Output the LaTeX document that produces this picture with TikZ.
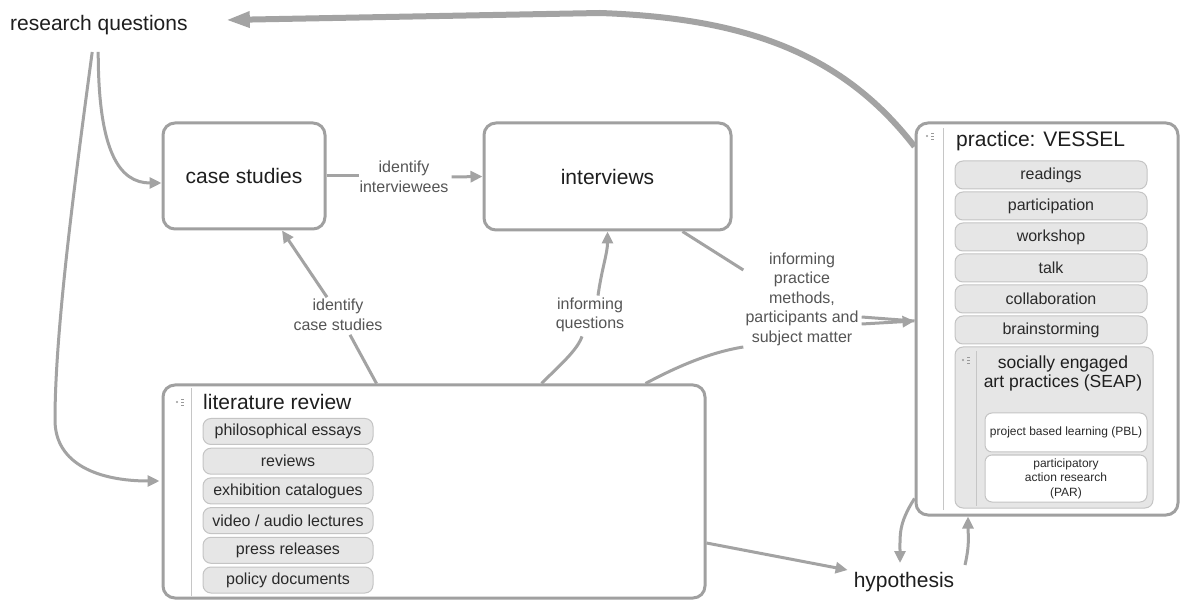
\documentclass[tikz,border=0pt]{standalone}
\usepackage{fontspec}
\setmainfont{Liberation Sans}
\usetikzlibrary{arrows.meta}
\definecolor{edgec}{HTML}{A3A3A3}
\definecolor{boxc}{HTML}{A0A0A0}
\definecolor{pillf}{HTML}{E6E6E6}
\definecolor{pilld}{HTML}{C4C4C4}
\definecolor{labc}{HTML}{555555}
\definecolor{txtc}{HTML}{1E1E1E}
\definecolor{pilltxt}{HTML}{2A2A2A}
\tikzset{
  bigbox/.style={draw=boxc, line width=3pt, rounded corners=12pt, inner sep=0pt, fill=white},
  pill/.style={draw=pilld, fill=pillf, line width=1pt, rounded corners=8pt, inner sep=0pt, text=pilltxt, font=\fontsize{16}{18}\selectfont},
  whitepill/.style={draw=pilld, fill=white, line width=1pt, rounded corners=7pt, inner sep=0pt, text=pilltxt, align=center, font=\fontsize{12}{14.5}\selectfont},
  bigtxt/.style={font=\fontsize{21}{24}\selectfont, text=txtc, inner sep=0pt},
  elab/.style={font=\fontsize{16}{19.5}\selectfont, text=labc, align=center, inner sep=0pt},
  conn/.style={draw=edgec, line width=3pt},
  arr/.style={conn, -{Triangle[length=12pt,width=11pt]}},
  divider/.style={draw=boxc!60, line width=1pt},
  iconline/.style={draw=gray!80, line width=0.7pt},
}
\newcommand\treeicon[1]{%
  \fill[gray!80] ([xshift=-4pt]#1) circle (1.2pt);
  \draw[iconline] ([xshift=0pt,yshift=3pt]#1) -- ++(3,0);
  \draw[iconline] (#1) -- ++(3,0);
  \draw[iconline] ([xshift=0pt,yshift=-3pt]#1) -- ++(3,0);
}
\begin{document}
\begin{tikzpicture}[x=1pt,y=-1pt]
\useasboundingbox[fill=white] (0,0) rectangle (1181,601);

% main nodes
\node[bigtxt, anchor=west] (rq) at (10,25) {research questions};
\node[bigbox, bigtxt, minimum width=162, minimum height=106] (case) at (244,176) {case studies};
\node[bigbox, bigtxt, minimum width=247, minimum height=107] (intv) at (607.5,176.5) {interviews};
\node[bigbox, minimum width=542, minimum height=213] (lit) at (434,491.5) {};
\node[bigbox, minimum width=262, minimum height=392] (prac) at (1047,319) {};
\node[bigtxt] (hyp) at (904,582) {hypothesis};

% literature review contents
\coordinate (liticon) at (181,402);
\treeicon{liticon}
\draw[divider] ([xshift=30,yshift=-5]lit.north west) -- ([xshift=30,yshift=4]lit.south west);
\node[bigtxt, anchor=west] (littitle) at (203,402) {literature review};
\foreach \t [count=\i from 0] in {philosophical essays, reviews, exhibition catalogues, video / audio lectures, press releases, policy documents}{
  \node[pill, minimum width=170, minimum height=26] (lp\i) at (288,431.5+29.7*\i) {\t};
}

% practice contents
\coordinate (pracicon) at (931,136);
\treeicon{pracicon}
\draw[divider] ([xshift=29,yshift=-7]prac.north west) -- ([xshift=29,yshift=7]prac.south west);
\node[bigtxt, anchor=west] (practitle) at (956,141) {practice: VESSEL};
\foreach \t [count=\i from 0] in {readings, participation, workshop, talk, collaboration, brainstorming}{
  \node[pill, minimum width=192, minimum height=28] (pp\i) at (1051,175+31*\i) {\t};
}
\node[draw=pilld, fill=pillf, line width=1pt, rounded corners=8pt, inner sep=0pt, minimum width=198, minimum height=161] (seap) at (1054,427.5) {};
\coordinate (seapicon) at (967,360);
\treeicon{seapicon}
\draw[divider] ([xshift=22,yshift=-5]seap.north west) -- ([xshift=22,yshift=3]seap.south west);
\node[font=\fontsize{17.5}{19}\selectfont, text=txtc, align=center, inner sep=0pt] (seaptitle) at (1063,373) {socially engaged\\art practices (SEAP)};
\node[whitepill, minimum width=162, minimum height=39] (pbl) at (1066,432.5) {project based learning (PBL)};
\node[whitepill, minimum width=162, minimum height=47] (par) at (1066,478.5) {participatory\\action research\\(PAR)};

% edge labels
\node[elab] (l1) at (404,177) {identify\\interviewees};
\node[elab] (l2) at (338,315) {identify\\case studies};
\node[elab] (l3) at (590,315) {informing\\questions};
\node[elab] (l4) at (802,299) {informing\\practice\\methods,\\participants and\\subject matter};

% connectors
\draw[draw=edgec, line width=6pt, -{Triangle[length=24pt,width=15pt]}]
  ([yshift=-25pt]prac.north west) .. controls (840,50) and (740,18) .. (600,13)
  -- ([xshift=38pt,yshift=5pt]rq.east);

\draw[arr] ([xshift=-0.7pt,yshift=-17pt]rq.south) .. controls +(0,100) and +(-42,0) .. ([yshift=-7pt]case.west);
\draw[arr] ([xshift=-6.7pt,yshift=-17pt]rq.south) .. controls (75,180) and (55,330) .. (55,420)
  .. controls (55,465) and (100,481) .. ([xshift=-2pt,yshift=10.5pt]lit.west);

\draw[conn] (case.east) -- (case.east -| l1.west);
\draw[arr] ([xshift=3pt]l1.east) -- (intv.west);

\draw[conn] ([xshift=215pt]lit.north west) -- ([xshift=12pt,yshift=-4pt]l2.south);
\draw[arr] ([xshift=-11pt,yshift=2pt]l2.north) -- ([xshift=38pt]case.south);

\draw[conn] ([xshift=380pt]lit.north west) .. controls +(20,-20) and +(-5,14) .. ([xshift=-8pt,yshift=-4pt]l3.south);
\draw[arr] ([xshift=8pt,yshift=2pt]l3.north) .. controls +(4,-28) and +(0,22) .. (intv.south);

\draw[conn] ([xshift=75pt]intv.south) -- ([xshift=-2pt,yshift=29pt]l4.west);
\draw[conn] ([xshift=484pt]lit.north west) .. controls (680,365) and (712,352) .. ([xshift=-2pt,yshift=-48pt]l4.west);
\draw[conn] ([xshift=3pt,yshift=-18pt]l4.east) -- ([yshift=-2pt]prac.west);
\draw[arr] ([xshift=3pt,yshift=-25pt]l4.east) -- ([yshift=-2pt]prac.west);

\draw[arr] ([yshift=-51.5pt]lit.east) -- ([xshift=-6pt,yshift=12pt]hyp.west);
\draw[arr] ([yshift=18pt]prac.south west) .. controls +(-16,25) and +(0,-28) .. ([xshift=-4pt,yshift=9pt]hyp.north);
\draw[arr] ([xshift=61pt,yshift=7pt]hyp.north) .. controls +(5,-22) and +(0,18) .. ([xshift=-79pt]prac.south);
\end{tikzpicture}
\end{document}
